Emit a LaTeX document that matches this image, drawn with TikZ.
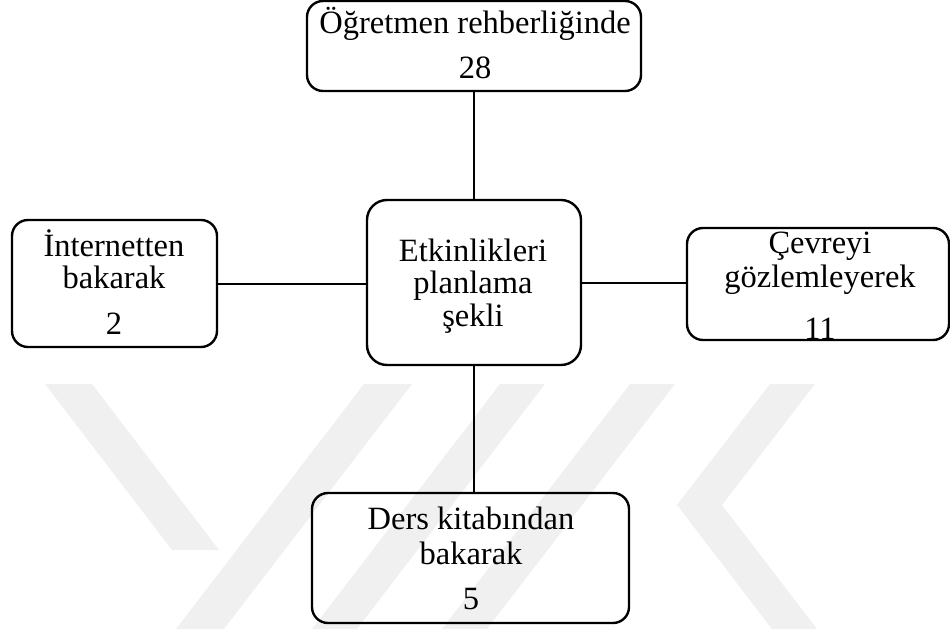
\documentclass[tikz,border=0pt]{standalone}
\usepackage{fontspec}
\setmainfont{Liberation Serif}
\begin{document}
\begin{tikzpicture}[x=1pt,y=-1pt,
  box/.style={draw, line width=2.4pt, rounded corners=16pt, inner sep=0pt},
  link/.style={line width=2pt},
  txt/.style={anchor=base, inner sep=0pt, font=\fontsize{32.5}{34}\selectfont},
  wmark/.style={fill=black!6, draw=none}]
\useasboundingbox (0,0) rectangle (950,629);

% faint background emblem
\fill[wmark] (45,384) -- (92,384) -- (219,550) -- (172,550) -- cycle;
\fill[wmark] (364,384) -- (412,384) -- (224,629) -- (176,629) -- cycle;
\fill[wmark] (500,384) -- (545,384) -- (357,629) -- (312,629) -- cycle;
\fill[wmark] (630,384) -- (675,384) -- (487,629) -- (442,629) -- cycle;
\fill[wmark] (770,384) -- (815,384) -- (722,505) -- (677,505) -- cycle;
\fill[wmark] (677,505) -- (722,505) -- (817,629) -- (772,629) -- cycle;

% boxes
\node[box, minimum width=334pt, minimum height=90pt]  (top)    at (474,46)    {};
\node[box, minimum width=214pt, minimum height=165pt, rounded corners=20pt] (centre) at (474,282.5) {};
\node[box, minimum width=205pt, minimum height=127pt] (left)   at (114.5,283.5) {};
\node[box, minimum width=262pt, minimum height=112pt] (right)  at (818,284)   {};
\node[box, minimum width=317pt, minimum height=130pt] (bottom) at (470.5,558) {};

% connectors
\draw[link] (top.south) -- (centre.north);
\draw[link] (centre.south) -- (centre.south |- bottom.north);
\draw[link] (left.east) -- (left.east -| centre.west);
\draw[link] (centre.east) -- (centre.east -| right.west);

% labels
\node[txt] (t1) at (475,33)  {Öğretmen rehberliğinde};
\node[txt] (t2) at (475,78)  {28};

\node[txt] (c1) at (473,261) {Etkinlikleri};
\node[txt] (c2) at (473,293) {planlama};
\node[txt] (c3) at (473,326) {şekli};

\node[txt] (l1) at (114,256) {İnternetten};
\node[txt] (l2) at (114,288) {bakarak};
\node[txt] (l3) at (114,334) {2};

\node[txt] (r1) at (820,253) {Çevreyi};
\node[txt] (r2) at (820,287) {gözlemleyerek};
\node[txt] (r3) at (820,339) {11};

\node[txt] (b1) at (471,529) {Ders kitabından};
\node[txt] (b2) at (471,564) {bakarak};
\node[txt] (b3) at (471,609) {5};
\end{tikzpicture}
\end{document}
